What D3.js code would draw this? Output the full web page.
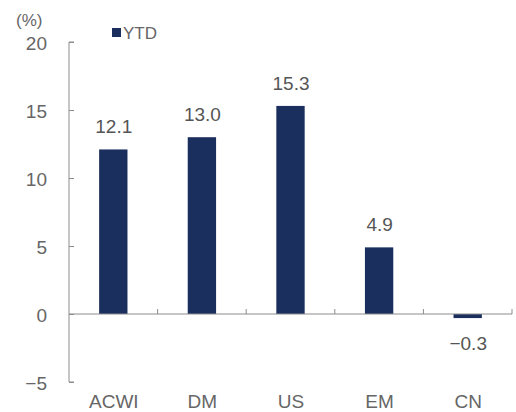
<!DOCTYPE html>
<html><head><meta charset="utf-8">
<script src="https://cdn.jsdelivr.net/npm/d3@7/dist/d3.min.js"></script>
<style>body{margin:0;background:#fff}svg{display:block}text{font-family:"Liberation Sans",Arial,sans-serif}</style>
</head><body><svg id="c" width="516" height="412"></svg>
<script>
const categories = ["ACWI","DM","US","EM","CN"];
const ytd = [12.1, 13.0, 15.3, 4.9, -0.3];
const yTicks = [-5, 0, 5, 10, 15, 20];
const seriesName = "YTD";
const unitLabel = "(%)";

const svg = d3.select("#c");
const x = d3.scaleBand().domain(categories).range([69, 512]).paddingInner(0.68).paddingOuter(0.34);
const y = d3.scaleLinear().domain([-5, 20]).range([382, 42]);
const barColor = "#1b2f5e", axisColor = "#8c8c8c", textColor = "#666";
const fmt = v => (v < 0 ? "\u2212" : "") + Math.abs(v).toFixed(1);
const fs = "19px";

// y axis
const ya = svg.append("g").attr("transform","translate(69,0)")
  .call(d3.axisRight(y).tickValues(yTicks).tickSize(5).tickFormat(v => (v<0?"\u2212":"")+Math.abs(v)));
ya.select(".domain").attr("stroke", axisColor).attr("d", `M5,${y(20)}H0V${y(-5)}H5`);
ya.selectAll(".tick line").attr("stroke", axisColor);
ya.selectAll(".tick text").attr("x", -22).attr("dy","0.4em").attr("text-anchor","end").attr("fill", textColor)
  .style("font-size",fs);

// bars
svg.append("g").selectAll("rect").data(categories).join("rect")
  .attr("x", d => x(d)).attr("width", x.bandwidth())
  .attr("y", (d,i) => y(Math.max(0, ytd[i])))
  .attr("height", (d,i) => Math.abs(y(ytd[i]) - y(0)))
  .attr("fill", barColor);

// x axis at zero
const xa = svg.append("g").attr("transform",`translate(0,${y(0)})`);
xa.append("line").attr("x1",69).attr("x2",512).attr("stroke",axisColor);
const edges = categories.map(c => x(c) + x.bandwidth()/2 + x.step()/2);
xa.selectAll("line.t").data(edges).join("line").attr("class","t")
  .attr("x1", d=>d).attr("x2", d=>d).attr("y1",0).attr("y2",-5).attr("stroke",axisColor);

// category labels
svg.append("g").selectAll("text").data(categories).join("text")
  .attr("x", d => x(d) + x.bandwidth()/2 + 0.5).attr("y", 408)
  .attr("text-anchor","middle").attr("fill", textColor)
  .style("font-size",fs).text(d => d);

// value labels
svg.append("g").selectAll("text").data(categories).join("text")
  .attr("x", d => x(d) + x.bandwidth()/2 + 0.5)
  .attr("y", (d,i) => ytd[i] >= 0 ? y(ytd[i]) - 16 : y(ytd[i]) + 32)
  .attr("text-anchor","middle").attr("fill", "#555")
  .style("font-size",fs).text((d,i) => fmt(ytd[i]));

// unit & legend
svg.append("text").attr("x",16).attr("y",26).attr("fill",textColor).style("font-size","17px").text(unitLabel);
svg.append("rect").attr("x",112).attr("y",28).attr("width",9).attr("height",9).attr("fill",barColor);
svg.append("text").attr("x",123).attr("y",39).attr("fill",textColor).style("font-size","17px").text(seriesName);
</script></body></html>
